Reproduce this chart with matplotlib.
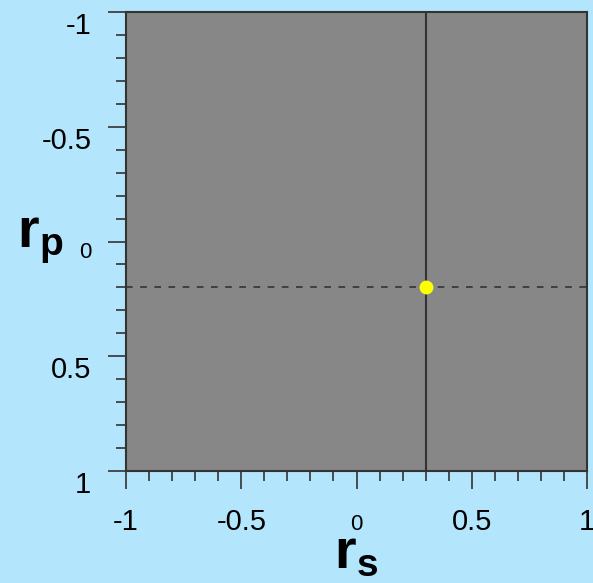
import numpy as np
import matplotlib
matplotlib.use("Agg")
import matplotlib.pyplot as plt
from matplotlib.ticker import MultipleLocator

plt.rcParams['font.family'] = ['Liberation Sans', 'DejaVu Sans']
plt.rcParams['mathtext.fontset'] = 'custom'
plt.rcParams['mathtext.bf'] = 'Liberation Sans:bold'
plt.rcParams['mathtext.rm'] = 'Liberation Sans'

# reflection coefficients (s and p polarisation)
tick_values = [-1, -0.5, 0, 0.5, 1]
tick_labels = ['-1', '-0.5', '0', '0.5', '1']
r_s = [0.3]
r_p = [0.2]

BG = '#b3e5fc'
FACE = '#878787'
DARK = '#333333'

fig = plt.figure(figsize=(5.93, 5.83), dpi=100, facecolor=BG)
ax = fig.add_axes([126 / 593, 112 / 583, 461 / 593, 459 / 583])
ax.set_facecolor(FACE)

ax.set_xlim(-1, 1)
ax.set_ylim(1, -1)  # r_p grows downward

# guide lines through the current point
ax.axvline(r_s[0], color=DARK, lw=1.5)
ax.axhline(r_p[0], color=DARK, lw=1.2, dashes=(4.0, 4.5))
ax.plot(r_s, r_p, 'o', color='#ffff00', markersize=10, markeredgewidth=0, zorder=5)

for sp in ax.spines.values():
    sp.set_color(DARK)
    sp.set_linewidth(1.5)

ax.set_xticks(tick_values, tick_labels)
ax.set_yticks(tick_values, tick_labels)
ax.xaxis.set_minor_locator(MultipleLocator(0.1))
ax.yaxis.set_minor_locator(MultipleLocator(0.1))
ax.tick_params(which='major', direction='out', length=13, width=1.2, color=DARK,
               labelsize=21, labelcolor='black')
ax.tick_params(which='minor', direction='out', length=7.2, width=1.2, color=DARK)
ax.tick_params(axis='x', which='major', pad=29.5)
ax.tick_params(axis='y', which='major', pad=12)

# zero labels are drawn smaller than the others
for lbl in ax.get_xticklabels():
    lbl.set_verticalalignment('baseline')
    if lbl.get_text() == '0':
        lbl.set_fontsize(16)
for lbl in ax.get_yticklabels():
    lbl.set_verticalalignment('top')
    if lbl.get_text() == '0':
        lbl.set_fontsize(16)

ax.set_xlabel(r'$\mathbf{r_s}$', fontsize=40)
ax.xaxis.set_label_coords(0.5, -0.213)
ax.xaxis.label.set_verticalalignment('baseline')
ax.set_ylabel(r'$\mathbf{r_p}$', fontsize=40, rotation=0)
ax.yaxis.set_label_coords(-0.236, 0.488)
ax.yaxis.label.set_horizontalalignment('left')
ax.yaxis.label.set_verticalalignment('baseline')

fig.savefig('out.png', dpi=100, facecolor=BG)
